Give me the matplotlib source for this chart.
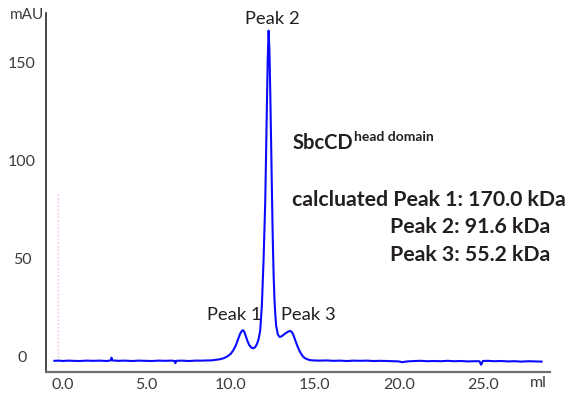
import matplotlib
matplotlib.use("Agg")
import matplotlib.pyplot as plt

plt.rcParams['font.family'] = ['Lato', 'DejaVu Sans']

# UV trace of the size-exclusion run as (elution volume ml, absorbance mAU)
trace_before = [
    (-0.5, -1.4), (-0.2, -1.3), (0.0, -1.5), (0.3, -1.3), (0.6, -1.4),
    (1.0, -1.5), (1.4, -1.3), (1.8, -1.4), (2.2, -1.3), (2.6, -1.5),
    (2.85, -1.2), (2.9, 0.2), (2.95, -1.2), (3.3, -1.4), (3.7, -1.3),
    (4.1, -1.5), (4.5, -1.3), (4.9, -1.4), (5.3, -1.5), (5.7, -1.3),
    (6.1, -1.4), (6.5, -1.3), (6.65, -1.5), (6.7, -2.6), (6.75, -1.4),
    (7.1, -1.3), (7.5, -1.5), (7.9, -1.3), (8.3, -1.3), (8.6, -1.2),
    (8.8, -1.2),
]
trace_peaks = [
    (9.0, -1.0), (9.2, -0.8), (9.4, -0.5), (9.6, 0.0), (9.8, 0.9),
    (10.0, 2.2), (10.15, 4.0), (10.3, 6.5), (10.45, 10.0), (10.55, 12.3),
    (10.65, 13.8), (10.72, 14.2), (10.8, 13.5), (10.9, 11.0), (11.0, 8.5),
    (11.1, 6.6), (11.2, 5.6), (11.25, 5.2), (11.35, 5.0), (11.45, 5.6),
    (11.55, 7.0), (11.65, 9.5), (11.75, 14.0), (11.85, 27.0), (11.95, 50.0),
    (12.05, 80.0), (12.1, 104.0), (12.15, 130.0), (12.2, 153.0),
    (12.25, 167.0), (12.3, 157.0), (12.35, 135.0), (12.4, 110.0),
    (12.45, 84.0), (12.5, 60.0), (12.55, 42.0), (12.6, 30.0), (12.65, 22.0),
    (12.7, 16.5), (12.8, 12.0), (12.9, 10.8), (13.0, 11.0), (13.1, 11.6),
    (13.2, 12.3), (13.3, 12.9), (13.4, 13.4), (13.5, 13.8), (13.6, 13.6),
    (13.7, 12.3), (13.8, 10.0), (13.9, 7.6), (14.0, 5.4), (14.1, 3.5),
    (14.2, 2.0), (14.3, 0.8), (14.4, 0.0), (14.55, -0.6), (14.7, -1.0),
    (14.9, -1.2),
]
trace_after = [
    (15.3, -1.3), (15.7, -1.2), (16.1, -1.4), (16.5, -1.3), (16.9, -1.5),
    (17.3, -1.3), (17.7, -1.4), (18.1, -1.3), (18.5, -1.5), (18.9, -1.4),
    (19.3, -1.5), (19.7, -1.6), (20.0, -1.7), (20.2, -2.1), (20.5, -1.7),
    (20.9, -1.5), (21.3, -1.4), (21.7, -1.6), (22.1, -1.5), (22.5, -1.6),
    (22.9, -1.4), (23.3, -1.6), (23.7, -1.5), (24.1, -1.7), (24.5, -1.6),
    (24.8, -1.6), (24.9, -3.4), (25.0, -1.5), (25.3, -1.4), (25.7, -1.6),
    (26.1, -1.5), (26.5, -1.7), (26.9, -1.6), (27.3, -1.8), (27.7, -1.6),
    (28.1, -1.7), (28.5, -1.8),
]

# Injection marker
injection_ml = -0.3
injection_top = 84

x_ticks = [0, 5, 10, 15, 20, 25]
x_tick_labels = ["0.0", "5.0", "10.0", "15.0", "20.0", "25.0"]
y_ticks = [0, 50, 100, 150]
y_tick_labels = ["0", "50", "100", "150"]

peak_labels = ["Peak 1", "Peak 2", "Peak 3"]
peak_label_pos = [(10.2, 21.9), (12.47, 172.8), (14.6, 21.9)]

mass_lines = ["calcluated Peak 1: 170.0 kDa", "Peak 2: 91.6 kDa", "Peak 3: 55.2 kDa"]

text_col = "#231f20"
tick_col = "#3c3c3c"

trace = trace_before + trace_peaks + trace_after
volume_ml = [p[0] for p in trace]
absorbance_mau = [p[1] for p in trace]

fig = plt.figure(figsize=(5.79, 3.96), dpi=100)
ax = fig.add_axes([46 / 579, 1 - 372 / 396, 504 / 579, 359 / 396])
ax.set_xlim(-1, 29)
ax.set_ylim(-7.1, 176)

ax.vlines(injection_ml, -1.4, injection_top, colors="#f4b6ee", linestyles=":", linewidth=1.0)
ax.plot(volume_ml, absorbance_mau, color="#0a0aff", linewidth=1.5, solid_joinstyle="round")

for sp in ["top", "right"]:
    ax.spines[sp].set_visible(False)
ax.spines["left"].set_color("#2a2a2a")
ax.spines["left"].set_linewidth(1.2)
ax.spines["bottom"].set_color("#6e6e6e")
ax.spines["bottom"].set_linewidth(1.6)

ax.set_xticks(x_ticks)
ax.set_xticklabels(x_tick_labels)
ax.tick_params(axis="x", length=0, pad=4.0, labelsize=11.5, labelcolor=tick_col)

# y tick labels are centred in the margin left of the axis
ax.set_yticks(y_ticks)
ax.tick_params(axis="y", length=0, labelleft=False)
for val, lab in zip(y_ticks, y_tick_labels):
    ax.annotate(lab, xy=(0, val), xycoords=("axes fraction", "data"),
                xytext=(-17.3, 0), textcoords="offset points",
                ha="center", va="center", fontsize=11.5, color=tick_col)

ax.text(-0.038, 0.994, "mAU", transform=ax.transAxes, ha="center", va="center",
        fontsize=11, color=tick_col)
ax.text(28.3, -0.0306, "ml", transform=ax.get_xaxis_transform(), ha="center", va="center",
        fontsize=11.5, color=tick_col)

for lab, (px, py) in zip(peak_labels, peak_label_pos):
    ax.text(px, py, lab, ha="center", va="center", fontsize=13.2, color=text_col)

title = ax.text(13.66, 109.7, "SbcCD", ha="left", va="center", fontsize=14.5,
                fontweight="bold", color=text_col)
ax.annotate("head domain", xy=(1.0, 1.0), xycoords=title, xytext=(0.5, 1.5),
            textcoords="offset points", ha="left", va="top", fontsize=10,
            fontweight="bold", color=text_col)

ax.text(13.66, 80.6, mass_lines[0], ha="left", va="center", fontsize=15.3,
        fontweight="bold", color=text_col)
ax.text(19.5, 66.8, mass_lines[1], ha="left", va="center", fontsize=15.3,
        fontweight="bold", color=text_col)
ax.text(19.5, 52.6, mass_lines[2], ha="left", va="center", fontsize=15.3,
        fontweight="bold", color=text_col)

fig.savefig("out.png", dpi=100)
